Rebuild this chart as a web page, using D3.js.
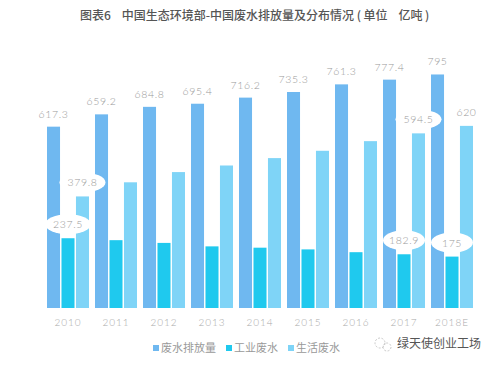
<!DOCTYPE html>
<html><head><meta charset="utf-8">
<script src="https://cdn.jsdelivr.net/npm/d3@7"></script>
<style>body{margin:0;background:#fff;}svg{display:block;}</style>
</head><body>
<script>
const years = ["2010","2011","2012","2013","2014","2015","2016","2017","2018E"];
const totalWater = [617.3,659.2,684.8,695.4,716.2,735.3,761.3,777.4,795];
const industrialWater = [237.5,230.9,221.6,209.8,205.3,199.5,190,182.9,175];
const domesticWater = [379.8,427.9,462.7,485.1,510.3,535.2,568,594.5,620];
const seriesNames = ["废水排放量","工业废水","生活废水"];
const labeledYears = ["2010","2017","2018E"];
const title = "图表6    中国生态环境部-中国废水排放量及分布情况 ( 单位    亿吨 )";
const watermark = "绿天使创业工场";

const W=499,H=366;
const colors=["#6fb8f0","#1fc9ee","#7fd4f7"];
const svg=d3.select("body").append("svg").attr("width",W).attr("height",H);
const x=d3.scaleBand().domain(years).range([44,476]).paddingInner(0.125).paddingOuter(0.0625);
const xs=d3.scaleBand().domain(seriesNames).range([0,x.bandwidth()]).paddingInner(0.1);
const y=d3.scaleLinear().domain([0,800]).range([308,73]);
const series=[totalWater,industrialWater,domesticWater];

svg.append("text").attr("x",80).attr("y",20)
  .attr("font-family","'Noto Sans CJK SC'").attr("font-size",12).attr("font-weight",500)
  .attr("fill","#555").attr("xml:space","preserve").style("white-space","pre").text(title);

const g=svg.append("g");
series.forEach((vals,si)=>{
  g.selectAll(".b"+si).data(years).enter().append("rect")
   .attr("x",d=>x(d)+xs(seriesNames[si])).attr("width",xs.bandwidth())
   .attr("y",(d,i)=>y(vals[i])).attr("height",(d,i)=>y(0)-y(vals[i]))
   .attr("fill",colors[si]);
});
const lblFont="Lato";
g.selectAll(".lt").data(years).enter().append("text")
 .attr("x",d=>x(d)+xs(seriesNames[0])+xs.bandwidth()/2)
 .attr("y",(d,i)=>y(totalWater[i])-9).attr("text-anchor","middle")
 .attr("font-family",lblFont).attr("font-weight",300).attr("font-size",10.5).attr("letter-spacing",0.6)
 .attr("fill","#999").text((d,i)=>totalWater[i]);
[[1,industrialWater],[2,domesticWater]].forEach(([si,vals])=>{
  years.forEach((yr,i)=>{
    if(!labeledYears.includes(yr)) return;
    const cx=x(yr)+xs(seriesNames[si])+xs.bandwidth()/2;
    const cy=y(vals[i])-14;
    const isLastDom = si===2 && yr==="2018E";
    if(!isLastDom){
      g.append("ellipse").attr("cx",cx).attr("cy",cy).attr("rx",vals[i]<200?21:23).attr("ry",10).attr("fill","#fff");
    }
    g.append("text").attr("x",cx).attr("y",cy+4).attr("text-anchor","middle")
     .attr("font-family",lblFont).attr("font-weight",300).attr("font-size",10.5).attr("letter-spacing",0.6)
     .attr("fill","#999").text(vals[i]);
  });
});
const xa=svg.append("g").attr("transform","translate(0,308)")
 .call(d3.axisBottom(x).tickSize(0).tickPadding(11));
xa.select(".domain").remove();
xa.selectAll("text").attr("font-family",lblFont).attr("font-weight",300).attr("font-size",10)
 .attr("letter-spacing",1).attr("fill","#aaa");

const legX=[153,226,288];
seriesNames.forEach((n,i)=>{
  svg.append("rect").attr("x",legX[i]).attr("y",345).attr("width",6).attr("height",6).attr("fill",colors[i]);
  svg.append("text").attr("x",legX[i]+8).attr("y",352).attr("font-family","'Noto Sans CJK SC'")
   .attr("font-size",11).attr("fill","#999").text(n);
});
const wm=svg.append("g").attr("transform","translate(383,344)");
wm.append("circle").attr("cx",-3).attr("cy",-1).attr("r",5).attr("fill","none").attr("stroke","#bbb").attr("stroke-width",0.8).attr("stroke-dasharray","2,1.5");
wm.append("circle").attr("cx",4).attr("cy",3).attr("r",4).attr("fill","none").attr("stroke","#bbb").attr("stroke-width",0.8).attr("stroke-dasharray","2,1.5");
svg.append("text").attr("x",397).attr("y",348).attr("font-family","'Noto Sans CJK SC'")
 .attr("font-size",12).attr("fill","#555").text(watermark);
</script>
</body></html>
